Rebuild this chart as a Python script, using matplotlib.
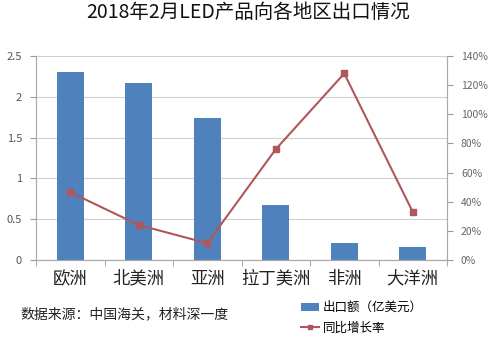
import matplotlib
matplotlib.use("Agg")
import matplotlib.pyplot as plt
import numpy as np
from matplotlib.lines import Line2D
from matplotlib.patches import Patch

plt.rcParams['font.family'] = ['Noto Sans CJK SC', 'DejaVu Sans']

categories = ["欧洲", "北美洲", "亚洲", "拉丁美洲", "非洲", "大洋洲"]
export_value = [2.31, 2.17, 1.74, 0.67, 0.21, 0.16]
growth_rate = [46.5, 24, 11.5, 76, 128, 33]
left_ticks = [0, 0.5, 1, 1.5, 2, 2.5]
left_labels = ["0", "0.5", "1", "1.5", "2", "2.5"]
right_ticks = [0, 20, 40, 60, 80, 100, 120, 140]
right_labels = [f"{t}%" for t in right_ticks]

W, H = 494, 359
fig = plt.figure(figsize=(W/100, H/100), dpi=100)
ax = fig.add_axes([36/W, 1-260/H, (447-36)/W, (260-56)/H])
x = np.arange(len(categories))
bar_color = "#4F81BD"
line_color = "#B0575A"
ax.bar(x, export_value, width=0.4, color=bar_color, zorder=3)
ax.set_xlim(-0.5, len(categories)-0.5)
ax.set_ylim(0, 2.5)
ax.set_yticks(left_ticks)
ax.set_yticklabels(left_labels, fontsize=8, color="#555555")
ax.yaxis.grid(True, color="#D0D0D0", linewidth=0.8, zorder=0)
ax.set_xticks(x)
ax.set_xticklabels(categories, fontsize=12.5, color="#222222")
ax.tick_params(axis='x', length=0, pad=7)
ax.set_xticks(np.arange(-0.5, len(categories)), minor=True)
ax.tick_params(axis='x', which='minor', length=4, color="#999999", direction='out')
ax.tick_params(axis='y', length=4, color="#999999", pad=6)
for s in ["top"]:
    ax.spines[s].set_visible(False)
for s in ["left", "bottom", "right"]:
    ax.spines[s].set_color("#AAAAAA")
    ax.spines[s].set_linewidth(0.8)

ax2 = ax.twinx()
ax2.plot(x, growth_rate, color=line_color, linewidth=1.5, marker='s', markersize=4, zorder=4)
ax2.set_ylim(0, 140)
ax2.set_yticks(right_ticks)
ax2.set_yticklabels(right_labels, fontsize=7.5, color="#666666")
ax2.tick_params(axis='y', length=4, color="#999999", pad=6)
ax2.spines["top"].set_visible(False)
for s in ["left", "bottom", "right"]:
    ax2.spines[s].set_color("#AAAAAA")
    ax2.spines[s].set_linewidth(0.8)

fig.text(248/W, 1-13/H, "2018年2月LED产品向各地区出口情况", ha='center', va='center', fontsize=14, color="#111111")
fig.text(20/W, 1-314/H, "数据来源：中国海关，材料深一度", ha='left', va='center', fontsize=10, color="#222222")

handles = [Patch(facecolor=bar_color, edgecolor='none'),
           Line2D([0], [0], color=line_color, marker='s', markersize=3, linewidth=1.5)]
leg = fig.legend(handles, ["出口额（亿美元）", "同比增长率"], loc='center left',
                 bbox_to_anchor=(290/W, 1-318/H), frameon=False, fontsize=9,
                 handlelength=1.4, handletextpad=0.3, labelspacing=0.6)

fig.savefig("out.png", dpi=100)
